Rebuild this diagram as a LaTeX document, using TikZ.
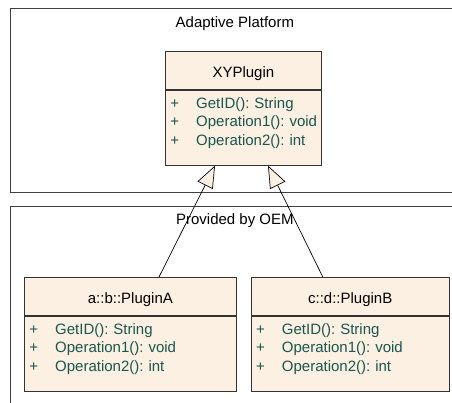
\documentclass[tikz,border=0pt]{standalone}
\usepackage{fontspec}
\setmainfont{Liberation Sans}
\frenchspacing
\usetikzlibrary{positioning,arrows.meta}
\definecolor{classfill}{RGB}{251,240,225}
\definecolor{opcolor}{RGB}{28,84,80}
\definecolor{pkgline}{RGB}{64,64,64}
\begin{document}
\begin{tikzpicture}
        [x=1pt, y=1pt,
        every node/.style={font=\fontsize{15}{18.5}\selectfont},
        package/.style={draw=pkgline, line width=0.8pt, minimum width=449pt, inner sep=0pt},
        classhead/.style={draw=black!80, line width=0.8pt, fill=classfill, minimum height=38pt,
          text height=14pt, text depth=0pt, inner sep=0pt},
        classbody/.style={draw=black!80, line width=0.8pt, fill=classfill, minimum height=75pt,
          text width=#1, inner xsep=5pt, inner ysep=0pt, align=left, text=opcolor},
        generalize/.style={-{Triangle[open, fill=classfill, length=22pt, width=17pt]}, line width=0.7pt},
        ]
        \useasboundingbox (0,0) rectangle (452,-403);
        \clip (0,0) rectangle (452,-403);
        % packages
        \node[package, minimum height=184pt, anchor=north west] (platform) at (10,-8) {};
        \node[anchor=base] (platformtitle) at ([yshift=-20pt]platform.north) {Adaptive Platform};
        \node[package, minimum height=220pt, anchor=north west] (oem) at (10,-206) {};
        \node[anchor=base] (oemtitle) at ([yshift=-19pt]oem.north) {Provided by OEM};
        % classes
        \node[classhead, minimum width=156pt, anchor=north west] (xyhead) at (165,-51) {XYPlugin};
        \node[classbody=146pt, below=0pt of xyhead] (xybody)
          {\begin{tabular}{@{}l@{\hspace{17pt}}l@{}}
           + & GetID(): String\\ + & Operation1(): void\\ + & Operation2(): int\\[9pt]
           \end{tabular}};
        \node[classhead, minimum width=212pt, anchor=north west] (ahead) at (24,-277) {a::b::PluginA};
        \node[classbody=202pt, below=0pt of ahead] (abody)
          {\begin{tabular}{@{}l@{\hspace{17pt}}l@{}}
           + & GetID(): String\\ + & Operation1(): void\\ + & Operation2(): int\\[9pt]
           \end{tabular}};
        \node[classhead, minimum width=198pt, right=14pt of ahead] (bhead) {c::d::PluginB};
        \node[classbody=188pt, below=0pt of bhead] (bbody)
          {\begin{tabular}{@{}l@{\hspace{17pt}}l@{}}
           + & GetID(): String\\ + & Operation1(): void\\ + & Operation2(): int\\[9pt]
           \end{tabular}};
        % generalizations
        \draw[generalize] ([xshift=135pt]ahead.north west) -- ([xshift=50pt]xybody.south west);
        \draw[generalize] ([xshift=72pt]bhead.north west) -- ([xshift=103pt]xybody.south west);
\end{tikzpicture}
\end{document}
